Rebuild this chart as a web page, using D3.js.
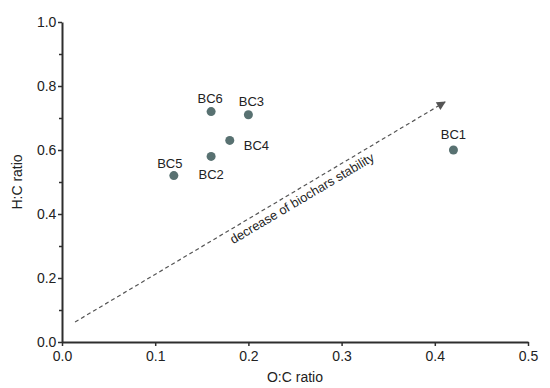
<!DOCTYPE html>
<html>
<head>
<meta charset="utf-8">
<script src="https://cdn.jsdelivr.net/npm/d3@7"></script>
<style>
body{margin:0;background:#fff}
text{font-family:"Liberation Sans",Arial,sans-serif;fill:#222}
</style>
</head>
<body>
<script>
var width=550,height=388;

var names=["BC1","BC2","BC3","BC4","BC5","BC6"],
	ocRatio=[0.42,0.16,0.20,0.18,0.12,0.16],
	hcRatio=[0.60,0.58,0.71,0.63,0.52,0.72],
	xTicks=[0,0.1,0.2,0.3,0.4,0.5],
	yTicks=[0,0.2,0.4,0.6,0.8,1.0],
	yMinor=[0.1,0.3,0.5,0.7,0.9];

// trend arrow, start and end in data units
var arrowFrom=[0.014,0.0625],
	arrowTo=[0.411,0.75];

// label offset per point (dx,dy)
var labelPos={BC1:[0,-16],BC2:[0,18],BC3:[3,-13],BC4:[14,5],BC5:[-4,-12],BC6:[-1,-13]};

var svg=d3.select("body").append("svg").attr("width",width).attr("height",height);

var x=d3.scaleLinear().domain([0,0.5]).range([62,528]);
var y=d3.scaleLinear().domain([0,1]).range([342,22]);

var axisColor="#2e2e2e";

var gx=svg.append("g").attr("transform","translate(0,342)")
	.call(d3.axisBottom(x).tickValues(xTicks).tickFormat(d3.format(".1f")).tickSize(4).tickSizeOuter(0));
var gy=svg.append("g").attr("transform","translate(62,0)")
	.call(d3.axisLeft(y).tickValues(yTicks).tickFormat(d3.format(".1f")).tickSize(4).tickSizeOuter(0));
svg.append("g").attr("transform","translate(62,0)")
	.call(d3.axisLeft(y).tickValues(yMinor).tickFormat("").tickSize(3).tickSizeOuter(0))
	.select(".domain").remove();

svg.selectAll(".domain").attr("stroke",axisColor).attr("stroke-width",2);
svg.selectAll(".tick line").attr("stroke",axisColor).attr("stroke-width",1.5);
svg.selectAll(".tick text").style("font-size","14px").attr("fill","#222");
gx.selectAll(".tick text").attr("dy","0.85em");
gy.selectAll(".tick text").attr("dx","0.1em").attr("dy","0.35em");

svg.append("text").attr("x",(62+528)/2).attr("y",382).attr("text-anchor","middle")
	.style("font-size","14px").text("O:C ratio");
svg.append("text").attr("transform","translate(22,182) rotate(-90)").attr("text-anchor","middle")
	.style("font-size","14px").text("H:C ratio");

// arrow
svg.append("defs").append("marker").attr("id","head")
	.attr("viewBox","0 0 10 10").attr("refX",9).attr("refY",5)
	.attr("markerWidth",11).attr("markerHeight",9).attr("markerUnits","userSpaceOnUse")
	.attr("orient","auto")
	.append("path").attr("d","M0,0L10,5L0,10z").attr("fill","#555");

var x1=x(arrowFrom[0]),y1=y(arrowFrom[1]),x2=x(arrowTo[0]),y2=y(arrowTo[1]);
svg.append("line").attr("x1",x1).attr("y1",y1).attr("x2",x2).attr("y2",y2)
	.attr("stroke","#555").attr("stroke-width",1.2).attr("stroke-dasharray","4,3")
	.attr("marker-end","url(#head)");

var ang=Math.atan2(y2-y1,x2-x1)*180/Math.PI;
var t=0.6,mx=x1+(x2-x1)*t,my=y1+(y2-y1)*t;
svg.append("text").attr("transform","translate("+mx+","+my+") rotate("+ang+")")
	.attr("text-anchor","middle").attr("dy","1.1em").style("font-size","12.8px")
	.text("decrease of biochars stability");

// points
var pts=names.map((n,i)=>({name:n,oc:ocRatio[i],hc:hcRatio[i]}));
svg.selectAll("circle.pt").data(pts).enter().append("circle").attr("class","pt")
	.attr("cx",d=>x(d.oc)).attr("cy",d=>y(d.hc)).attr("r",4.5).attr("fill","#587171");
svg.selectAll("text.lbl").data(pts).enter().append("text").attr("class","lbl")
	.attr("x",d=>x(d.oc)+labelPos[d.name][0]).attr("y",d=>y(d.hc)+labelPos[d.name][1])
	.attr("text-anchor",d=>d.name=="BC4"?"start":"middle").attr("dy","0.35em")
	.style("font-size","13px").text(d=>d.name);
</script>
</body>
</html>
